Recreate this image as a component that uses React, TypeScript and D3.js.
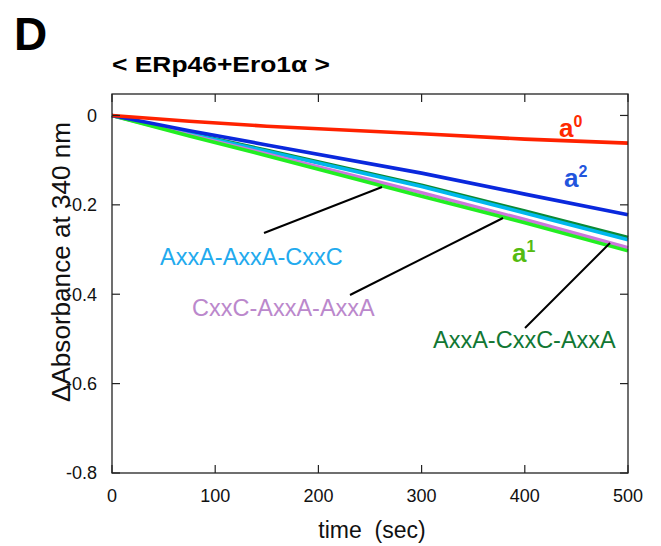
import React from "react";
import * as d3 from "d3";

const times = [0, 75, 150, 300, 400, 500];
const seriesA0 = [0, -0.013, -0.024, -0.041, -0.053, -0.062];
const seriesA2 = [0, -0.034, -0.066, -0.129, -0.176, -0.222];
const seriesAACyan = [0, -0.041, -0.080, -0.159, -0.218, -0.278];
const seriesACADark = [0, -0.040, -0.078, -0.156, -0.214, -0.273];
const seriesCAAPurple = [0, -0.044, -0.086, -0.173, -0.233, -0.296];
const seriesA1 = [0, -0.046, -0.090, -0.181, -0.240, -0.303];

const xTicks = [0, 100, 200, 300, 400, 500];
const yTicks = [0, -0.2, -0.4, -0.6, -0.8];

const FONT = "'Liberation Sans', Arial, Helvetica, sans-serif";

export default function App() {
  const W = 661, H = 546;
  const left = 112, right = 628, top = 94, bottom = 473;
  const x = d3.scaleLinear().domain([0, 500]).range([left, right]);
  const y = d3.scaleLinear().domain([-0.8, 0.048]).range([bottom, top]);
  const line = d3
    .line<number>()
    .x((_, i) => x(times[i]))
    .y((d) => y(d));

  const series = [
    { v: seriesACADark, c: "#0a8a35" },
    { v: seriesAACyan, c: "#00b8ee" },
    { v: seriesCAAPurple, c: "#cc77dd" },
    { v: seriesA1, c: "#22ee22" },
    { v: seriesA2, c: "#0a28dd" },
    { v: seriesA0, c: "#ff2200" },
  ];

  const tickLen = 8;
  const axisColor = "#222";

  return (
    <svg
      width={W}
      height={H}
      style={{ position: "absolute", left: 0, top: 0, background: "#fff" }}
      fontFamily={FONT}
    >
      <rect x={0} y={0} width={W} height={H} fill="#fff" />
      {/* panel letter */}
      <text x={14} y={50} fontSize={46} fontWeight="bold" fill="#000">D</text>
      {/* title */}
      <text x={112} y={72} fontSize={21.5} fontWeight="bold" fill="#000" textLength={218} lengthAdjust="spacingAndGlyphs">
        {"< ERp46+Ero1\u03B1 >"}
      </text>

      {/* data lines */}
      {series.map((s, i) => (
        <path key={i} d={line(s.v) || ""} fill="none" stroke={s.c} strokeWidth={3.6} strokeLinejoin="round" />
      ))}

      {/* frame */}
      <rect x={left} y={top} width={right - left} height={bottom - top} fill="none" stroke={axisColor} strokeWidth={1.3} />
      {xTicks.map((t) => (
        <g key={"xt" + t}>
          <line x1={x(t)} x2={x(t)} y1={bottom} y2={bottom - tickLen} stroke={axisColor} strokeWidth={1.2} />
          <line x1={x(t)} x2={x(t)} y1={top} y2={top + tickLen} stroke={axisColor} strokeWidth={1.2} />
          <text x={x(t)} y={502} fontSize={18} textAnchor="middle" fill="#111">{t}</text>
        </g>
      ))}
      {yTicks.map((t) => (
        <g key={"yt" + t}>
          <line x1={left} x2={left + tickLen} y1={y(t)} y2={y(t)} stroke={axisColor} strokeWidth={1.2} />
          <line x1={right} x2={right - tickLen} y1={y(t)} y2={y(t)} stroke={axisColor} strokeWidth={1.2} />
          <text x={97} y={y(t)} dy="0.36em" fontSize={18} textAnchor="end" fill="#111">{t === 0 ? "0" : t.toFixed(1)}</text>
        </g>
      ))}

      {/* axis titles */}
      <text x={372} y={538} fontSize={23} textAnchor="middle" fill="#111" style={{ whiteSpace: "pre" }} xmlSpace="preserve">
        {"time  (sec)"}
      </text>
      <text
        transform="translate(70,262) rotate(-90)"
        x={0}
        y={0}
        fontSize={25}
        textAnchor="middle"
        fill="#111"
        textLength={280}
        lengthAdjust="spacingAndGlyphs"
      >
        {"\u0394Absorbance at 340 nm"}
      </text>

      {/* series labels */}
      <text x={559} y={137} fontSize={26} fontWeight="bold" fill="#ff2a00">
        a<tspan fontSize={16} dy={-10}>0</tspan>
      </text>
      <text x={564} y={187} fontSize={26} fontWeight="bold" fill="#2255dd">
        a<tspan fontSize={16} dy={-10}>2</tspan>
      </text>
      <text x={512} y={262} fontSize={26} fontWeight="bold" fill="#55bb11">
        a<tspan fontSize={16} dy={-10}>1</tspan>
      </text>

      <text x={160} y={265} fontSize={23.5} fill="#22aaee">AxxA-AxxA-CxxC</text>
      <text x={192} y={316} fontSize={23.5} fill="#bb88cc">CxxC-AxxA-AxxA</text>
      <text x={433} y={348} fontSize={23.5} fill="#117733">AxxA-CxxC-AxxA</text>

      {/* pointer lines */}
      <line x1={264} y1={233} x2={382} y2={187} stroke="#000" strokeWidth={2} />
      <line x1={350} y1={295} x2={503} y2={218} stroke="#000" strokeWidth={2} />
      <line x1={525} y1={328} x2={610} y2={243} stroke="#000" strokeWidth={2} />
    </svg>
  );
}
